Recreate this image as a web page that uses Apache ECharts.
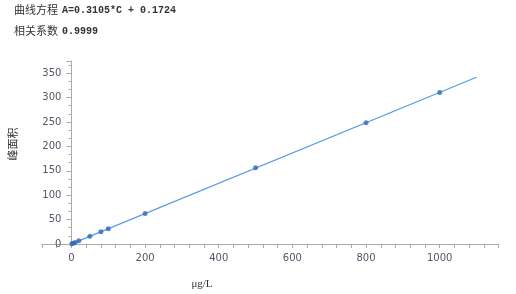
<!DOCTYPE html>
<html><head><meta charset="utf-8">
<script src="https://cdn.jsdelivr.net/npm/echarts@6/dist/echarts.min.js"></script>
<style>html,body{margin:0;padding:0;background:#fff}#c{width:516px;height:294px}</style>
</head><body><div id="c"></div>
<script>
const concentrations = [1, 5, 10, 20, 50, 80, 100, 200, 500, 800, 1000];
const peakAreas = [0.5, 1.7, 3.3, 6.9, 15.7, 25.0, 31.5, 62.3, 156.5, 248.5, 310.7];
const fitLineX = [0, 1100];
const fitLineY = [0.17, 341.7];
const xTickLabels = [0, 200, 400, 600, 800, 1000];
const yTickLabels = [0, 50, 100, 150, 200, 250, 300, 350];
const equationLabel = '曲线方程';
const equationText = 'A=0.3105*C + 0.1724';
const corrLabel = '相关系数';
const corrText = '0.9999';
const yName = '峰面积';
const xName = 'μg/L';

const chart = echarts.init(document.getElementById('c'), null, {renderer: 'canvas'});
const labelColor = '#55556a';
const cjk = '"Noto Sans CJK SC", sans-serif';
const gridLeft = 42, gridRight = 498.6;
const xMin = -80, xMax = 1160;
const yAxisOffset = -(0 - xMin) * (gridRight - gridLeft) / (xMax - xMin);
chart.setOption({
  animation: false,
  grid: {left: gridLeft, right: 516 - gridRight, top: 61, bottom: 50, containLabel: false},
  xAxis: {
    type: 'value', min: xMin, max: xMax, interval: 40,
    axisLine: {show: true, onZero: false, lineStyle: {color: '#aaaaaa'}},
    axisTick: {show: true, length: 4, lineStyle: {color: '#aaaaaa'}},
    splitLine: {show: false},
    axisLabel: {
      margin: 9, color: labelColor, fontSize: 10, fontFamily: 'DejaVu Sans, sans-serif',
      formatter: v => xTickLabels.indexOf(v) >= 0 ? String(v) : ''
    }
  },
  yAxis: {
    type: 'value', min: 0, max: 375, interval: 50,
    offset: yAxisOffset,
    axisLine: {show: true, onZero: false, lineStyle: {color: '#aaaaaa'}},
    axisTick: {show: true, length: 5, lineStyle: {color: '#aaaaaa'}},
    minorTick: {show: true, splitNumber: 3, length: 3, lineStyle: {color: '#aaaaaa'}},
    splitLine: {show: false},
    axisLabel: {
      margin: 10, color: labelColor, fontSize: 10, fontFamily: 'DejaVu Sans, sans-serif',
      formatter: v => yTickLabels.indexOf(v) >= 0 ? String(v) : ''
    }
  },
  series: [
    {
      type: 'line', data: fitLineX.map((x, i) => [x, fitLineY[i]]),
      showSymbol: false, symbol: 'none', silent: true,
      lineStyle: {color: '#5a9be3', width: 1.2}, z: 2
    },
    {
      type: 'scatter', data: concentrations.map((x, i) => [x, peakAreas[i]]),
      symbol: 'circle', symbolSize: 5,
      itemStyle: {color: '#2f6cb8'}, z: 3
    }
  ],
  graphic: [
    {type: 'text', left: 14, top: 4, style: {text: equationLabel, font: '11px ' + cjk, fill: '#333'}},
    {type: 'text', left: 62, top: 5, style: {text: equationText, font: 'bold 10px "Liberation Mono", monospace', fill: '#333'}},
    {type: 'text', left: 14, top: 25, style: {text: corrLabel, font: '11px ' + cjk, fill: '#333'}},
    {type: 'text', left: 62, top: 26, style: {text: corrText, font: 'bold 10px "Liberation Mono", monospace', fill: '#333'}},
    {type: 'text', x: 13, y: 144, rotation: Math.PI / 2,
      style: {text: yName, font: '11px ' + cjk, fill: '#333', align: 'center', verticalAlign: 'middle'}},
    {type: 'text', x: 202, y: 284,
      style: {text: xName, font: '11px "Liberation Serif", serif', fill: '#333', align: 'center', verticalAlign: 'middle'}}
  ]
});
</script></body></html>
